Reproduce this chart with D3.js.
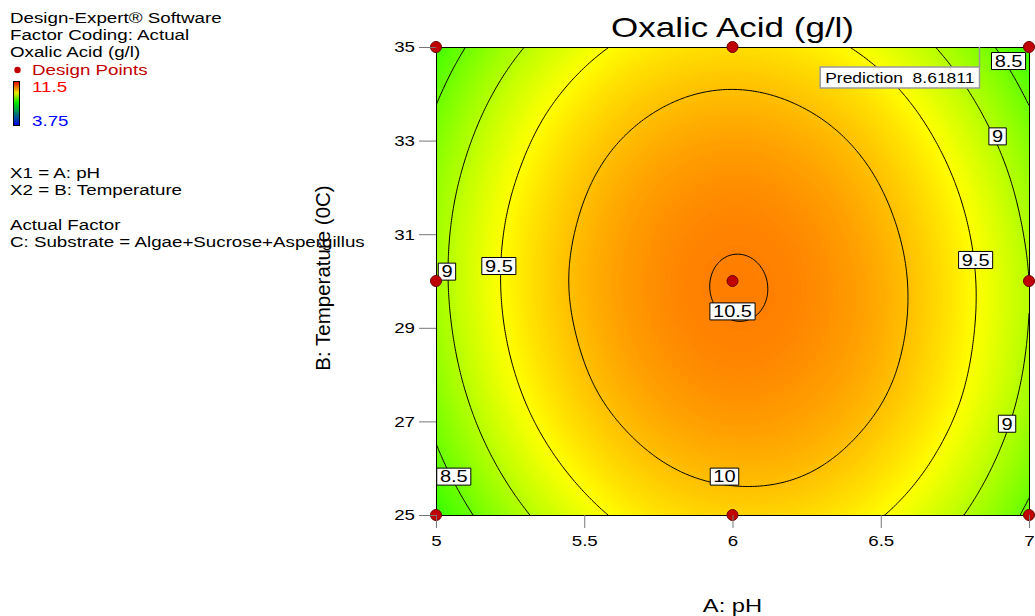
<!DOCTYPE html>
<html>
<head>
<meta charset="utf-8">
<script src="https://cdn.jsdelivr.net/npm/d3@7"></script>
<style>
  body { margin: 0; background: #fff; }
  svg { display: block; font-family: "Liberation Sans", Arial, sans-serif; }
</style>
</head>
<body>
<div class="chart"></div>
<script>
// grid of the response
const phValues = [5, 5.25, 5.5, 5.75, 6, 6.25, 6.5, 6.75, 7];
const tempValues = [25, 26.25, 27.5, 28.75, 30, 31.25, 32.5, 33.75, 35];
// oxalic acid (g/l), one row per temperature (25 -> 35), one column per pH
const acidRows = [
  [8.11, 8.84, 9.37, 9.71, 9.84, 9.78, 9.52, 9.07, 8.41],
  [8.44, 9.16, 9.68, 10.01, 10.14, 10.08, 9.81, 9.35, 8.69],
  [8.67, 9.39, 9.91, 10.23, 10.36, 10.28, 10.02, 9.55, 8.88],
  [8.81, 9.53, 10.04, 10.36, 10.479, 10.402, 10.13, 9.65, 8.98],
  [8.87, 9.58, 10.09, 10.399, 10.514, 10.431, 10.15, 9.67, 9.0],
  [8.84, 9.54, 10.04, 10.35, 10.459, 10.37, 10.08, 9.6, 8.92],
  [8.72, 9.41, 9.91, 10.21, 10.32, 10.22, 9.93, 9.44, 8.76],
  [8.5, 9.2, 9.69, 9.98, 10.08, 9.98, 9.69, 9.19, 8.5],
  [8.2, 8.89, 9.38, 9.67, 9.76, 9.65, 9.35, 8.85, 8.16],
];
const contourLevels = [8.5, 9, 9.5, 10, 10.5];
const contourLabels = [
  { level: 9, ph: 5.037, temp: 30.2 },
  { level: 9.5, ph: 5.212, temp: 30.32 },
  { level: 10.5, ph: 6.0, temp: 29.35 },
  { level: 9.5, ph: 6.82, temp: 30.45 },
  { level: 10, ph: 5.973, temp: 25.82 },
  { level: 8.5, ph: 5.06, temp: 25.82 },
  { level: 9, ph: 6.926, temp: 26.95 },
  { level: 9, ph: 6.894, temp: 33.09 },
  { level: 8.5, ph: 6.931, temp: 34.7 },
];
const designPh = [5, 6, 7];
const designTemp = [25, 30, 35];
const xTicks = [5, 5.5, 6, 6.5, 7];
const yTicks = [25, 27, 29, 31, 33, 35];
const colorStops = [3.75, 7.77, 9.5, 11.5];
const colorNames = ["#0000ff", "#00ff00", "#ffff00", "#ff0000"];
const prediction = { ph: 6.833, temp: 35, value: "8.61811" };

const infoLines = ["Design-Expert® Software", "Factor Coding: Actual", "Oxalic Acid (g/l)"];
const factorLines = ["X1 = A: pH", "X2 = B: Temperature"];
const actualLines = ["Actual Factor", "C: Substrate = Algae+Sucrose+Aspergillus"];

const width = 1035;
const height = 616;
const plot = { left: 436, right: 1029, top: 47, bottom: 515 };
const SX = 1.25; // the reference picture is stretched sideways

const svg = d3.select(".chart").append("svg")
  .attr("width", width)
  .attr("height", height);

const x = d3.scaleLinear().domain([5, 7]).range([plot.left, plot.right]);
const y = d3.scaleLinear().domain([25, 35]).range([plot.bottom, plot.top]);
const color = d3.scaleLinear().domain(colorStops).range(colorNames).clamp(true);

function stretched(parent, px, py) {
  return parent.append("g")
    .attr("transform", `translate(${px},${py}) scale(${SX},1)`)
    .append("text");
}

// ---- smooth sampling of the grid (Catmull-Rom) ----
function extendLine(a) {
  const n = a.length;
  return [3 * a[0] - 3 * a[1] + a[2], ...a, 3 * a[n - 1] - 3 * a[n - 2] + a[n - 3]];
}
const rowsExt = acidRows.map(extendLine);
const colsExt = d3.range(rowsExt[0].length).map((j) => extendLine(rowsExt.map((r) => r[j])));
const ext = d3.range(colsExt[0].length).map((i) => colsExt.map((c) => c[i]));

const phIndex = d3.scaleLinear().domain(d3.extent(phValues)).range([0, phValues.length - 1]).clamp(true);
const tempIndex = d3.scaleLinear().domain(d3.extent(tempValues)).range([0, tempValues.length - 1]).clamp(true);

function weights(t) {
  const t2 = t * t, t3 = t2 * t;
  return [(-t3 + 2 * t2 - t) / 2, (3 * t3 - 5 * t2 + 2) / 2, (-3 * t3 + 4 * t2 + t) / 2, (t3 - t2) / 2];
}

function sampleAcid(ph, temp) {
  const fx = phIndex(ph), fy = tempIndex(temp);
  const ix = Math.min(Math.floor(fx), phValues.length - 2);
  const iy = Math.min(Math.floor(fy), tempValues.length - 2);
  const wx = weights(fx - ix), wy = weights(fy - iy);
  let v = 0;
  for (let a = 0; a < 4; a++) {
    for (let b = 0; b < 4; b++) v += wy[a] * wx[b] * ext[iy + a][ix + b];
  }
  return v;
}

// ---- colour raster ----
const W = plot.right - plot.left, H = plot.bottom - plot.top;
const canvas = document.createElement("canvas");
canvas.width = W;
canvas.height = H;
const ctx = canvas.getContext("2d");
const img = ctx.createImageData(W, H);
const lut = d3.range(512).map((i) => d3.rgb(color(3.75 + (i / 511) * (11.5 - 3.75))));
for (let py = 0; py < H; py++) {
  const temp = y.invert(plot.top + py + 0.5);
  for (let px = 0; px < W; px++) {
    const v = sampleAcid(x.invert(plot.left + px + 0.5), temp);
    const c = lut[Math.max(0, Math.min(511, Math.round(((v - 3.75) / 7.75) * 511)))];
    const k = (py * W + px) * 4;
    img.data[k] = c.r; img.data[k + 1] = c.g; img.data[k + 2] = c.b; img.data[k + 3] = 255;
  }
}
ctx.putImageData(img, 0, 0);

svg.append("defs").append("clipPath").attr("id", "plot-clip")
  .append("rect")
  .attr("x", plot.left).attr("y", plot.top)
  .attr("width", W).attr("height", H);

svg.append("image")
  .attr("x", plot.left).attr("y", plot.top)
  .attr("width", W).attr("height", H)
  .attr("preserveAspectRatio", "none")
  .attr("href", canvas.toDataURL());

// ---- contour lines ----
const N = 241;
const gridValues = new Array(N * N);
for (let j = 0; j < N; j++) {
  for (let i = 0; i < N; i++) {
    gridValues[j * N + i] = sampleAcid(5 + (i * 2) / (N - 1), 25 + (j * 10) / (N - 1));
  }
}
const gx = d3.scaleLinear().domain([0.5, N - 0.5]).range([5, 7]);
const gy = d3.scaleLinear().domain([0.5, N - 0.5]).range([25, 35]);
const contourPath = d3.geoPath(d3.geoTransform({
  point(px, py) { this.stream.point(x(gx(px)), y(gy(py))); },
}));

svg.append("g")
  .attr("clip-path", "url(#plot-clip)")
  .selectAll("path")
  .data(d3.contours().size([N, N]).thresholds(contourLevels)(gridValues))
  .join("path")
  .attr("d", contourPath)
  .attr("fill", "none")
  .attr("stroke", "#000")
  .attr("stroke-width", 1);

svg.append("rect")
  .attr("x", plot.left + 0.5).attr("y", plot.top + 0.5)
  .attr("width", W).attr("height", H)
  .attr("fill", "none")
  .attr("stroke", "#000");

// ---- contour labels ----
contourLabels.forEach((d) => {
  const g = svg.append("g")
    .attr("transform", `translate(${x(d.ph)},${y(d.temp)}) scale(${SX},1)`);
  const rect = g.append("rect");
  const t = g.append("text")
    .attr("text-anchor", "middle")
    .attr("y", 5.8)
    .style("font-size", "16px")
    .text(d3.format("~g")(d.level));
  const tw = t.node().getComputedTextLength();
  rect.attr("x", -tw / 2 - 2.5).attr("y", -8.5)
    .attr("width", tw + 5).attr("height", 17)
    .attr("fill", "#fff")
    .attr("stroke", "#000")
    .attr("vector-effect", "non-scaling-stroke");
});

// ---- prediction flag ----
const predX = x(prediction.ph), predY = y(prediction.temp);
svg.append("line")
  .attr("x1", predX).attr("x2", predX)
  .attr("y1", predY).attr("y2", predY + 20)
  .attr("stroke", "#999").attr("stroke-width", 1.5);
const predG = svg.append("g");
const predRect = predG.append("rect");
const predText = stretched(predG, 0, 0)
  .style("font-size", "14px")
  .style("white-space", "pre")
  .text(`Prediction  ${prediction.value}`);
const predW = predText.node().getComputedTextLength() * SX + 10;
predText.node().parentNode.setAttribute("transform", `translate(${predX - predW + 5},${predY + 36}) scale(${SX},1)`);
predRect.attr("x", predX - predW).attr("y", predY + 20)
  .attr("width", predW).attr("height", 21)
  .attr("fill", "#fff").attr("stroke", "#999").attr("stroke-width", 1.5);

// ---- design points ----
const designPoints = d3.cross(designPh, designTemp);
svg.append("g")
  .selectAll("circle")
  .data(designPoints)
  .join("circle")
  .attr("cx", (d) => x(d[0]))
  .attr("cy", (d) => y(d[1]))
  .attr("r", 5.5)
  .attr("fill", "#c00000")
  .attr("stroke", "#700000")
  .attr("stroke-width", 1);

// ---- axes ----
svg.append("g")
  .attr("transform", `translate(0,${plot.bottom})`)
  .call(d3.axisBottom(x).tickValues(xTicks).tickSize(13).tickPadding(7).tickFormat(d3.format("~g")))
  .call((g) => g.select(".domain").remove())
  .call((g) => g.selectAll("line").attr("stroke", "#777"))
  .call((g) => g.selectAll("text")
    .attr("transform", `scale(${SX},1)`)
    .style("font-size", "15px")
    .style("font-family", "Liberation Sans, Arial, sans-serif")
    .attr("fill", "#000"));

svg.append("g")
  .attr("transform", `translate(${plot.left},0)`)
  .call(d3.axisLeft(y).tickValues(yTicks).tickSize(17).tickPadding(4).tickFormat(d3.format("~g")))
  .call((g) => g.select(".domain").remove())
  .call((g) => g.selectAll("line").attr("stroke", "#777"))
  .call((g) => g.selectAll("text")
    .attr("x", -21 / SX)
    .attr("transform", `scale(${SX},1)`)
    .style("font-size", "15px")
    .style("font-family", "Liberation Sans, Arial, sans-serif")
    .attr("fill", "#000"));

// ---- titles ----
stretched(svg, (plot.left + plot.right) / 2, 37)
  .attr("text-anchor", "middle")
  .style("font-size", "28px")
  .text("Oxalic Acid (g/l)");

stretched(svg, (plot.left + plot.right) / 2, 612)
  .attr("text-anchor", "middle")
  .style("font-size", "19px")
  .text("A: pH");

svg.append("text")
  .attr("transform", `translate(330,278) rotate(-90)`)
  .attr("text-anchor", "middle")
  .style("font-size", "20.5px")
  .text("B: Temperature (0C)");

// ---- legend block ----
const lineH = 17.2;
infoLines.forEach((s, i) => stretched(svg, 10, 23 + i * lineH).style("font-size", "15px").text(s));

svg.append("circle")
  .attr("cx", 17.5).attr("cy", 70)
  .attr("r", 3.2)
  .attr("fill", "#c00000");
stretched(svg, 32, 75).style("font-size", "15px").attr("fill", "#c00000").text("Design Points");

const grad = svg.select("defs").append("linearGradient")
  .attr("id", "bar-grad")
  .attr("x1", 0).attr("y1", 1).attr("x2", 0).attr("y2", 0);
grad.selectAll("stop")
  .data(colorStops)
  .join("stop")
  .attr("offset", (d) => (d - colorStops[0]) / (colorStops[colorStops.length - 1] - colorStops[0]))
  .attr("stop-color", (d) => d3.color(color(d)).darker(0.25));

svg.append("rect")
  .attr("x", 13.5).attr("y", 81.5)
  .attr("width", 6).attr("height", 44)
  .attr("fill", "url(#bar-grad)")
  .attr("stroke", "#000")
  .attr("stroke-width", 1);

stretched(svg, 32, 92).style("font-size", "15px").attr("fill", "#ff0000")
  .text(d3.format("~g")(colorStops[colorStops.length - 1]));
stretched(svg, 32, 126).style("font-size", "15px").attr("fill", "#0000ff")
  .text(d3.format("~g")(colorStops[0]));

factorLines.forEach((s, i) => stretched(svg, 10, 178 + i * lineH).style("font-size", "15px").text(s));
actualLines.forEach((s, i) => stretched(svg, 10, 230 + i * lineH).style("font-size", "15px").text(s));
</script>
</body>
</html>
